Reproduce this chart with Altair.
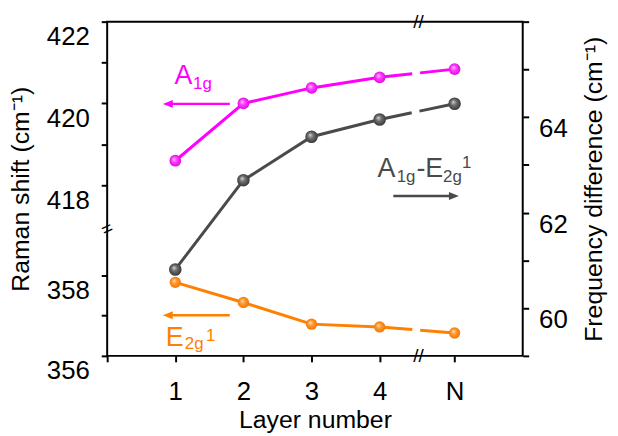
import altair as alt
import pandas as pd

# ---------------- data ----------------
layer_labels = ["1", "2", "3", "4", "N"]
layer_pos = [1, 2, 3, 4, 5.1]
a1g = [418.6, 420.0, 420.38, 420.64, 420.84]      # Raman shift, upper left axis
e2g = [357.83, 357.33, 356.79, 356.72, 356.57]    # Raman shift, lower left axis
diff = [60.81, 62.68, 63.59, 63.95, 64.28]        # frequency difference, right axis

x_domain = [0, 6.1]
x_ticks = [0, 1, 2, 3, 4, 5.1]
e2g_domain = [356, 364.32]
a1g_domain = [413.83, 422]
diff_domain = [59, 66]
e2g_ticks = [356, 357, 358]
a1g_ticks = [418, 419, 420, 421, 422]
diff_ticks = [59, 60, 61, 62, 63, 64, 65, 66]

# annotation pieces (position, value, text, font size)
a1g_text = dict(pos=[0.99, 1.26], v=[420.47, 420.35], t=["A", "1g"], fs=[27, 17])
diff_text = dict(pos=[3.97, 4.25, 4.54, 4.93, 5.21],
                 v=[62.74, 62.64, 62.74, 62.64, 62.93],
                 t=["A", "1g", "-E", "2g", "1"], fs=[27, 17, 27, 17, 17])
e2g_text = dict(pos=[0.86, 1.14, 1.45], v=[356.25, 356.17, 356.37],
                t=["E", "2g", "1"], fs=[27, 17, 17])
# arrows: tail position, head position, value
a1g_arrow = dict(pos=[1.80], pos2=[0.89], v=[419.99])
diff_arrow = dict(pos=[4.20], pos2=[5.09], v=[62.35])
e2g_arrow = dict(pos=[1.80], pos2=[0.89], v=[357.01])
# axis break marks (on the lower-left scale)
brk = dict(pos=[0, 4.57, 4.57], v=[359.16, 356, 364.32], t=["=", "//", "//"], ang=[335, 0, 0])

FONT = "Liberation Sans"
MAGENTA = "#ff00ff"
ORANGE = "#ff8000"
GRAY = "#4a4a4a"

LEFT_ARROW = "M-1,0L1,-0.8L1,0.8Z"
RIGHT_ARROW = "M1,0L-1,-0.8L-1,0.8Z"


def grad(c0, c1, c2):
    return alt.RadialGradient(
        gradient="radial",
        stops=[alt.GradientStop(offset=0, color=c0),
               alt.GradientStop(offset=0.4, color=c1),
               alt.GradientStop(offset=1, color=c2)],
        x1=0.38, y1=0.35, r1=0, x2=0.5, y2=0.5, r2=0.55,
    )


x_axis = alt.Axis(values=x_ticks, title="Layer number",
                  labelExpr="datum.value == 0 ? '' : (datum.value > 5 ? 'N' : datum.label)",
                  labelPadding=17, titlePadding=3, labelBaseline="top")
X = alt.X("pos:Q", scale=alt.Scale(domain=x_domain, nice=False, zero=False), axis=x_axis)


def series(values, color, fill, size, ydef, text, arrow, head_shape):
    df = pd.DataFrame({"pos": layer_pos, "v": values, "layer": layer_labels})
    base = alt.Chart(df)
    solid = base.transform_filter("datum.pos <= 4").mark_line(
        color=color, strokeWidth=3).encode(x=X, y=ydef)
    dash = base.transform_filter("datum.pos >= 4").mark_line(
        color=color, strokeWidth=3, strokeDash=[33, 8, 200, 0]).encode(x=X, y=ydef)
    pts = base.mark_circle(fill=fill, size=size, opacity=1).encode(x=X, y=ydef)
    txt = alt.Chart(pd.DataFrame(text)).mark_text(
        align="left", baseline="alphabetic", font=FONT, color=color).encode(
        x=X, y=ydef, text="t:N", size=alt.Size("fs:Q", scale=None, legend=None))
    adf = pd.DataFrame(arrow)
    rule = alt.Chart(adf).mark_rule(color=color, strokeWidth=2.5).encode(
        x=X, x2="pos2:Q", y=ydef)
    head = alt.Chart(adf).mark_point(shape=head_shape, filled=True, color=color,
                                     size=100, opacity=1).encode(
        x=alt.X("pos2:Q", scale=alt.Scale(domain=x_domain, nice=False, zero=False), axis=x_axis),
        y=ydef)
    return alt.layer(solid, dash, pts, txt, rule, head)


y_e2g = alt.Y("v:Q", scale=alt.Scale(domain=e2g_domain, nice=False, zero=False),
              axis=alt.Axis(orient="left", values=e2g_ticks, title="Raman shift (cm⁻¹)",
                            labelExpr="datum.value == 357 ? '' : datum.label",
                            labelBaseline="top", labelOffset=2, titlePadding=13))
y_a1g = alt.Y("v:Q", scale=alt.Scale(domain=a1g_domain, nice=False, zero=False),
              axis=alt.Axis(orient="left", values=a1g_ticks, title=None,
                            labelExpr="datum.value % 2 == 0 ? datum.label : ''",
                            labelBaseline="top", labelOffset=2))
y_diff = alt.Y("v:Q", scale=alt.Scale(domain=diff_domain, nice=False, zero=False),
               axis=alt.Axis(orient="right", values=diff_ticks,
                             title="Frequency difference (cm⁻¹)",
                             labelExpr="(datum.value % 2 == 0 && datum.value < 66) ? datum.label : ''",
                             labelBaseline="top", labelOffset=-1, labelPadding=10,
                             titleAngle=270, titleBaseline="top", titlePadding=15))

orange = series(e2g, ORANGE, grad("#ffe6c0", "#ff9a30", "#f07000"), 130, y_e2g,
                e2g_text, e2g_arrow, LEFT_ARROW)
breaks = alt.Chart(pd.DataFrame(brk)).mark_text(
    font=FONT, fontSize=19, color="black",
    align="center", baseline="middle").encode(
    x=X, y=y_e2g, text="t:N", angle=alt.Angle("ang:Q", scale=None))
orange = alt.layer(orange, breaks)

magenta = series(a1g, MAGENTA, grad("#ffd6ff", "#ff40ff", "#e000e0"), 140, y_a1g,
                 a1g_text, a1g_arrow, LEFT_ARROW)
gray = series(diff, GRAY, grad("#d8d8d8", "#707070", "#303030"), 160, y_diff,
              diff_text, diff_arrow, RIGHT_ARROW)

chart = alt.layer(orange, magenta, gray).resolve_scale(y="independent").properties(
    width=419, height=337,
    autosize=alt.AutoSizeParams(type="none"),
    padding={"left": 100, "top": 12, "right": 88, "bottom": 76},
).configure_view(stroke="black", strokeWidth=2).configure_axis(
    grid=False, domain=False, tickColor="black", tickWidth=2, tickSize=6,
    labelFont=FONT, labelFontSize=26, labelColor="black", labelPadding=12,
    titleFont=FONT, titleFontSize=25, titleFontWeight="normal", titleColor="black",
)

chart.save("out.html", embed_options={"renderer": "svg", "actions": False})
